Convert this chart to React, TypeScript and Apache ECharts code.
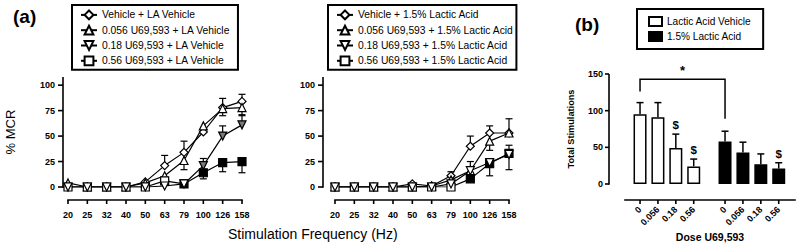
import React, { useEffect, useRef } from 'react';
import * as echarts from 'echarts';

const FONT = '"Liberation Sans", Arial, Helvetica, sans-serif';

// ---------- Panel (a) shared ----------
const freqLabels = ['20', '25', '32', '40', '50', '63', '79', '100', '126', '158'];
const yTicksA = [0, 25, 50, 75, 100];
const yRangeA: [number, number] = [0, 108];

// Left: LA Vehicle
const namesLA = [
  'Vehicle + LA Vehicle',
  '0.056 U69,593 + LA Vehicle',
  '0.18 U69,593 + LA Vehicle',
  '0.56 U69,593 + LA Vehicle',
];
const vehLA = [0, 0, 0, 0, 5, 21, 34, 54, 78, 84];
const u056LA = [4, 0, 0, 0, 4, 11, 26, 60, 77, 78];
const u18LA = [0, 0, 0, 0, 0, 1, 3, 21, 50, 61];
const u56LA = [0, 0, 0, 0, 0, 6, 3, 14, 24, 25];
// signed one-sided SEM (positive = drawn upward, negative = downward, 0 = none)
const vehLAErr = [0, 0, 0, 0, 0, 10, 11, 0, -8, 7];
const u056LAErr = [0, 0, 0, 0, 0, 0, -9, 0, 10, -8];
const u18LAErr = [0, 0, 0, 0, 0, 0, 0, 7, 10, 10];
const u56LAErr = [0, 0, 0, 0, 0, 0, 0, -6, -9, -11];
// significance flags (filled markers)
const u18LASig = [0, 0, 0, 0, 0, 0, 0, 1, 1, 1];
const u56LASig = [0, 0, 0, 0, 0, 0, 1, 1, 1, 1];

// Right: 1.5% Lactic Acid
const namesAc = [
  'Vehicle + 1.5% Lactic Acid',
  '0.056 U69,593 + 1.5% Lactic Acid',
  '0.18 U69,593 + 1.5% Lactic Acid',
  '0.56 U69,593 + 1.5% Lactic Acid',
];
const vehAc = [0, 0, 0, 0, 3, 1, 11, 40, 53, 53];
const u056Ac = [0, 0, 0, 0, 0, 1, 7, 16, 45, 53];
const u18Ac = [0, 0, 0, 0, 0, 0, 3, 16, 24, 32];
const u56Ac = [0, 0, 0, 0, 0, 0, 0, 8, 23, 33];
const vehAcErr = [0, 0, 0, 0, 0, 0, 4, 10, 7, 14];
const u056AcErr = [0, 0, 0, 0, 0, 0, 0, 0, -9, 0];
const u18AcErr = [0, 0, 0, 0, 0, 0, 0, 9, 0, -15];
const u56AcErr = [0, 0, 0, 0, 0, 0, 0, 0, -12, 8];
const u18AcSig = [0, 0, 0, 0, 0, 0, 0, 0, 0, 0];
const u56AcSig = [0, 0, 0, 0, 0, 0, 0, 1, 1, 1];
const noSig = [0, 0, 0, 0, 0, 0, 0, 0, 0, 0];

// ---------- Panel (b) ----------
const doseLabels = ['0', '0.056', '0.18', '0.56'];
const vehPos = [0, 1, 2, 3];
const acPos = [4.75, 5.75, 6.75, 7.75];
const xRangeB: [number, number] = [-0.84, 8.66];
const vehTotals = [95, 91, 49, 24];
const vehTotalsErr = [16, 20, 19, 10];
const acTotals = [58, 43, 27, 21];
const acTotalsErr = [14, 14, 14, 8];
const dollarVeh = [0, 0, 1, 1];
const dollarAc = [0, 0, 0, 1];
const yTicksB = [0, 50, 100, 150];
const yRangeB: [number, number] = [0, 150];
// bracket: [xLeft, xRight, yLeftEnd, yTop, yRightEnd]
const bracket = [[0, 4.75, 126, 143, 89]];

const errPoints = (vals: number[], errs: number[], pos?: number[]) =>
  vals.flatMap((v, i) => (errs[i] ? [[pos ? pos[i] : i, v, v + errs[i]]] : []));

const AX_W = 1.6;

const hBar = (x1: number, x2: number, y: number, w: number) => ({
  type: 'rect',
  shape: { x: Math.min(x1, x2), y: y - w / 2, width: Math.abs(x2 - x1), height: w },
  style: { fill: '#000' },
});
const vBar = (x: number, y1: number, y2: number, w: number) => ({
  type: 'rect',
  shape: { x: x - w / 2, y: Math.min(y1, y2), width: w, height: Math.abs(y2 - y1) },
  style: { fill: '#000' },
});

function errorRender(capW: number, lw: number) {
  return (params: any, api: any) => {
    const x = api.value(0);
    const p0 = api.coord([x, api.value(1)]);
    const p1 = api.coord([x, api.value(2)]);
    return {
      type: 'group',
      children: [vBar(p0[0], p0[1], p1[1], lw), hBar(p1[0] - capW / 2, p1[0] + capW / 2, p1[1], lw)],
    };
  };
}

function lineSeries(
  name: string, values: number[], sig: number[], symbol: string, rotate: number,
  axis: number, sigColor: string
) {
  return {
    type: 'line',
    name,
    xAxisIndex: axis,
    yAxisIndex: axis,
    data: values.map((v, i) => (sig[i] ? { value: v, itemStyle: { color: sigColor } } : v)),
    symbol,
    symbolSize: 8,
    symbolRotate: rotate,
    showSymbol: true,
    showAllSymbol: true,
    lineStyle: { color: '#000', width: 1.2 },
    itemStyle: { color: '#fff', borderColor: '#000', borderWidth: 1.2 },
    emphasis: { disabled: true },
    z: 3,
  };
}

const tickFont = () => ({ fontFamily: FONT, fontWeight: 'bold', fontSize: 9, color: '#000' });
const noLine = () => ({ show: false, onZero: false });
const noTick = () => ({ show: false });

function catXAxis(gridIndex: number) {
  return {
    type: 'category',
    gridIndex,
    data: freqLabels,
    boundaryGap: false,
    offset: 13,
    axisLine: noLine(),
    axisTick: noTick(),
    axisLabel: { ...tickFont(), margin: 10, interval: 0 },
    splitLine: { show: false },
  };
}

function yAxisA(gridIndex: number, offset: number, extra: any = {}) {
  return {
    type: 'value',
    gridIndex,
    min: yRangeA[0],
    max: yRangeA[1],
    interval: 25,
    offset,
    axisLine: noLine(),
    axisTick: noTick(),
    axisLabel: {
      ...tickFont(),
      margin: 8,
      formatter: (v: number) => (yTicksA.indexOf(v) >= 0 ? String(v) : ''),
    },
    splitLine: { show: false },
    ...extra,
  };
}

function legendA(names: string[], left: number, padRight: number) {
  return {
    data: names,
    orient: 'vertical',
    left,
    top: 5,
    borderColor: '#000',
    borderWidth: 2,
    padding: [4.5, padRight, 3.5, 8],
    itemWidth: 16,
    itemHeight: 11,
    itemGap: 4.5,
    selectedMode: false,
    textStyle: { fontFamily: FONT, fontSize: 10.3, color: '#000' },
  };
}

const titleGraphics = [
  { id: 'ta', type: 'text', left: 13, top: 7, style: { text: '(a)', font: `bold 19px ${FONT}`, fill: '#000' } },
  { id: 'tb', type: 'text', left: 575, top: 15, style: { text: '(b)', font: `bold 19px ${FONT}`, fill: '#000' } },
  { id: 'tx', type: 'text', left: 228, top: 227, style: { text: 'Stimulation Frequency (Hz)', font: `14px ${FONT}`, fill: '#000' } },
];

export default function App() {
  const ref = useRef<HTMLDivElement>(null);
  useEffect(() => {
    if (!ref.current) return;
    const chart = echarts.init(ref.current, undefined, { renderer: 'svg' });
    const allPos = [...vehPos, ...acPos];
    const allDose = [...doseLabels, ...doseLabels];
    const freqIdx = freqLabels.map((_, i) => i);
    const option: any = {
      animation: false,
      backgroundColor: '#fff',
      textStyle: { fontFamily: FONT },
      grid: [
        { left: 68, top: 77, width: 174, height: 110 },
        { left: 335, top: 77, width: 174, height: 110 },
        { left: 625, top: 74, width: 170, height: 110 },
      ],
      legend: [
        legendA(namesLA, 72, 8),
        legendA(namesAc, 328, 3),
        {
          data: ['Lactic Acid Vehicle', '1.5% Lactic Acid'],
          orient: 'vertical',
          left: 637,
          top: 9,
          icon: 'rect',
          borderColor: '#000',
          borderWidth: 2,
          padding: [7, 12, 7, 11],
          itemWidth: 13,
          itemHeight: 9,
          itemGap: 4,
          selectedMode: false,
          textStyle: { fontFamily: FONT, fontSize: 10.1, color: '#000' },
        },
      ],
      xAxis: [
        catXAxis(0),
        catXAxis(1),
        {
          type: 'value',
          gridIndex: 2,
          min: xRangeB[0],
          max: xRangeB[1],
          offset: 16,
          axisLine: noLine(),
          axisTick: noTick(),
          axisLabel: {
            ...tickFont(),
            rotate: 45,
            margin: 8,
            customValues: allPos,
            formatter: (v: number) => {
              const k = allPos.findIndex((p) => Math.abs(p - v) < 1e-6);
              return k >= 0 ? allDose[k] : '';
            },
          },
          splitLine: { show: false },
          name: 'Dose U69,593',
          nameLocation: 'middle',
          nameGap: 31,
          nameTextStyle: { fontFamily: FONT, fontWeight: 'bold', fontSize: 10.5, color: '#000' },
        },
      ],
      yAxis: [
        yAxisA(0, 5, {
          name: '% MCR',
          nameLocation: 'middle',
          nameRotate: 90,
          nameGap: 46,
          nameTextStyle: { fontFamily: FONT, fontSize: 13, color: '#000' },
        }),
        yAxisA(1, 12),
        {
          type: 'value',
          gridIndex: 2,
          min: yRangeB[0],
          max: yRangeB[1],
          interval: 50,
          offset: 16,
          axisLine: noLine(),
          axisTick: noTick(),
          axisLabel: { ...tickFont(), margin: 6 },
          splitLine: { show: false },
          name: 'Total Stimulations',
          nameLocation: 'middle',
          nameRotate: 90,
          nameGap: 34,
          nameTextStyle: { fontFamily: FONT, fontWeight: 'bold', fontSize: 9.2, color: '#000' },
        },
      ],
      series: [
        {
          type: 'custom', xAxisIndex: 0, yAxisIndex: 0, z: 2, silent: true,
          renderItem: errorRender(7, 1.2),
          data: [
            ...errPoints(vehLA, vehLAErr), ...errPoints(u056LA, u056LAErr),
            ...errPoints(u18LA, u18LAErr), ...errPoints(u56LA, u56LAErr),
          ],
        },
        {
          type: 'custom', xAxisIndex: 1, yAxisIndex: 1, z: 2, silent: true,
          renderItem: errorRender(7, 1.2),
          data: [
            ...errPoints(vehAc, vehAcErr), ...errPoints(u056Ac, u056AcErr),
            ...errPoints(u18Ac, u18AcErr), ...errPoints(u56Ac, u56AcErr),
          ],
        },
        lineSeries(namesLA[0], vehLA, noSig, 'diamond', 0, 0, '#000'),
        lineSeries(namesLA[1], u056LA, noSig, 'triangle', 0, 0, '#000'),
        lineSeries(namesLA[3], u56LA, u56LASig, 'rect', 0, 0, '#000'),
        lineSeries(namesLA[2], u18LA, u18LASig, 'triangle', 180, 0, '#7a7a7a'),
        lineSeries(namesAc[0], vehAc, noSig, 'diamond', 0, 1, '#000'),
        lineSeries(namesAc[1], u056Ac, noSig, 'triangle', 0, 1, '#000'),
        lineSeries(namesAc[3], u56Ac, u56AcSig, 'rect', 0, 1, '#000'),
        lineSeries(namesAc[2], u18Ac, u18AcSig, 'triangle', 180, 1, '#7a7a7a'),
        {
          type: 'bar', name: 'Lactic Acid Vehicle', xAxisIndex: 2, yAxisIndex: 2,
          data: vehPos.map((x, i) => [x, vehTotals[i]]),
          barWidth: 13, barGap: '-100%',
          itemStyle: { color: '#fff', borderColor: '#000', borderWidth: 1.5 },
          emphasis: { disabled: true }, z: 3,
        },
        {
          type: 'bar', name: '1.5% Lactic Acid', xAxisIndex: 2, yAxisIndex: 2,
          data: acPos.map((x, i) => [x, acTotals[i]]),
          barWidth: 13, barGap: '-100%',
          itemStyle: { color: '#000', borderColor: '#000', borderWidth: 1.5 },
          emphasis: { disabled: true }, z: 3,
        },
        {
          type: 'custom', xAxisIndex: 2, yAxisIndex: 2, z: 2, silent: true,
          renderItem: errorRender(7, 1.5),
          data: [...errPoints(vehTotals, vehTotalsErr, vehPos), ...errPoints(acTotals, acTotalsErr, acPos)],
        },
        {
          type: 'custom', xAxisIndex: 2, yAxisIndex: 2, z: 4, silent: true,
          renderItem: (params: any, api: any) => {
            const p = api.coord([api.value(0), api.value(1)]);
            return {
              type: 'text', x: p[0], y: p[1] - 3,
              style: { text: '$', fill: '#000', fontFamily: FONT, fontWeight: 'bold', fontSize: 11.5, align: 'center', verticalAlign: 'bottom' },
            };
          },
          data: [
            ...vehPos.flatMap((x, i) => (dollarVeh[i] ? [[x, vehTotals[i] + vehTotalsErr[i]]] : [])),
            ...acPos.flatMap((x, i) => (dollarAc[i] ? [[x, acTotals[i] + acTotalsErr[i]]] : [])),
          ],
        },
        {
          type: 'custom', xAxisIndex: 2, yAxisIndex: 2, z: 4, silent: true,
          renderItem: (params: any, api: any) => {
            const x0 = api.value(0), x1 = api.value(1);
            const a = api.coord([x0, api.value(2)]);
            const b = api.coord([x0, api.value(3)]);
            const c = api.coord([x1, api.value(3)]);
            const d = api.coord([x1, api.value(4)]);
            return {
              type: 'group',
              children: [
                { type: 'polyline', shape: { points: [a, b, c, d] }, style: { stroke: '#000', lineWidth: 1.5, fill: null } },
                {
                  type: 'text', x: (b[0] + c[0]) / 2, y: b[1] - 2,
                  style: { text: '*', fill: '#000', fontFamily: FONT, fontWeight: 'bold', fontSize: 13, align: 'center', verticalAlign: 'bottom' },
                },
              ],
            };
          },
          data: bracket,
        },
      ],
      graphic: { elements: titleGraphics },
    };
    chart.setOption(option);

    // Detached GraphPad-style axes, positioned from the chart's own axis scales.
    const px = (g: number, x: number, y: number) =>
      chart.convertToPixel({ xAxisIndex: g, yAxisIndex: g } as any, [x, y]) as number[];
    const axisEls: any[] = [];
    let n = 0;
    const addRect = (r: any) => axisEls.push({ ...r, id: 'ax' + n++, z: 50, silent: true });
    const frame = (
      g: number, xTicks: number[], xRange: [number, number], yTicks: number[], yRange: [number, number],
      xOff: number, yOff: number, xLen: number, yLen: number
    ) => {
      const base = px(g, xRange[0], yRange[0]);
      const right = px(g, xRange[1], yRange[0]);
      const top = px(g, xRange[0], yRange[1]);
      const yLineX = base[0] - yOff;
      const xLineY = base[1] + xOff;
      addRect(vBar(yLineX, top[1], base[1] + AX_W / 2, AX_W));
      yTicks.forEach((t) => addRect(hBar(yLineX - yLen, yLineX, px(g, xRange[0], t)[1], AX_W)));
      const xl = xTicks.length ? Math.min(base[0], px(g, xTicks[0], yRange[0])[0]) : base[0];
      addRect(hBar(xl - AX_W / 2, right[0] + AX_W / 2, xLineY, AX_W));
      xTicks.forEach((t) => addRect(vBar(px(g, t, yRange[0])[0], xLineY, xLineY + xLen, AX_W)));
    };
    try {
      frame(0, freqIdx, [0, freqLabels.length - 1], yTicksA, yRangeA, 13, 5, 4, 5);
      frame(1, freqIdx, [0, freqLabels.length - 1], yTicksA, yRangeA, 13, 12, 4, 5);
      frame(2, allPos, xRangeB, yTicksB, yRangeB, 16, 16, 4, 4);
      chart.setOption({ graphic: { elements: [...titleGraphics, ...axisEls] } });
    } catch (e) {
      // keep the chart even if axis frames cannot be computed
    }
    return () => chart.dispose();
  }, []);
  return (
    <div
      ref={ref}
      style={{ position: 'fixed', left: 0, top: 0, width: 800, height: 251, background: '#fff' }}
    />
  );
}
